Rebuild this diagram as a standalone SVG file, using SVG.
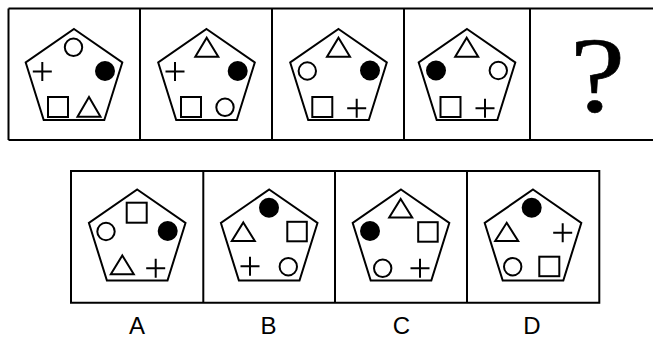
<svg xmlns="http://www.w3.org/2000/svg" width="653" height="339" viewBox="0 0 653 339">
<defs>
<style>
.frame{fill:none;stroke:#000;stroke-width:2}
.pent{fill:#fff;stroke:#000;stroke-width:2;stroke-linejoin:miter}
.o{fill:none;stroke:#000;stroke-width:2}
.f{fill:#000}
.q{font-family:"Liberation Serif",serif;font-size:108px;fill:#000;stroke:#000;stroke-width:0.6}
.lbl{font-family:"Liberation Sans",Arial,sans-serif;font-size:24px;fill:#000}
</style>
<polygon id="pg" points="0,0 48.3,33.5 30.3,91 -30.3,91 -48.3,33.5"/>
<path id="plus" d="M-9.5,0H9.5M0,-9.5V9.5"/>
</defs>
<rect width="653" height="339" fill="#fff"/>
<g id="connectors"></g>
<g id="top-frame">
<path class="frame" d="M8.5,8.5H660M8.5,140H660M8.5,8.5V140M140,8.5V140M272,8.5V140M404,8.5V140M530,8.5V140"/>
</g>
<g id="p1">
<use href="#pg" class="pent" x="74" y="29"/>
<circle class="o" cx="73.5" cy="47.3" r="8.7"/>
<circle class="f" cx="105" cy="71" r="10"/>
<use href="#plus" class="o" x="42.3" y="71.5"/>
<rect class="o" x="48" y="97" width="20" height="20"/>
<polygon class="o" points="89,97 100.5,116.7 77.5,116.7"/>
</g>
<g id="p2">
<use href="#pg" class="pent" x="206.5" y="29"/>
<polygon class="o" points="206.7,37.7 218.3,56.7 195.3,56.7"/>
<circle class="f" cx="237.7" cy="71" r="10"/>
<use href="#plus" class="o" x="175" y="71.5"/>
<rect class="o" x="181" y="97" width="20" height="20"/>
<circle class="o" cx="225" cy="107.3" r="8.7"/>
</g>
<g id="p3">
<use href="#pg" class="pent" x="338.5" y="29"/>
<polygon class="o" points="338.5,37.7 350,56.7 327,56.7"/>
<circle class="o" cx="307.3" cy="71" r="8.7"/>
<circle class="f" cx="370" cy="70.5" r="10"/>
<rect class="o" x="312.3" y="97" width="20" height="20"/>
<use href="#plus" class="o" x="356.7" y="108.3"/>
</g>
<g id="p4">
<use href="#pg" class="pent" x="467" y="29"/>
<polygon class="o" points="466.7,37.7 478.2,56.7 455.2,56.7"/>
<circle class="f" cx="436" cy="70.5" r="10"/>
<circle class="o" cx="498.3" cy="70.5" r="8.7"/>
<rect class="o" x="440.5" y="97" width="20" height="20"/>
<use href="#plus" class="o" x="485" y="108.3"/>
</g>
<g id="p5">
<text class="q" x="597.5" y="111" text-anchor="middle" transform="translate(597.5 0) scale(1.15 1) translate(-597.5 0)">?</text>
</g>
<g id="bottom-frame">
<path class="frame" d="M71,171H599.3V302.7H71ZM203.3,171V302.7M335,171V302.7M467,171V302.7"/>
</g>
<g id="optA">
<use href="#pg" class="pent" x="137.2" y="189.5"/>
<rect class="o" x="126.7" y="202.7" width="20" height="20"/>
<circle class="o" cx="106" cy="231.5" r="8.7"/>
<circle class="f" cx="167.7" cy="231" r="10"/>
<polygon class="o" points="122.3,255.5 133.8,274.3 110.8,274.3"/>
<use href="#plus" class="o" x="155.7" y="268.3"/>
<text class="lbl" x="137" y="334" text-anchor="middle">A</text>
</g>
<g id="optB">
<use href="#pg" class="pent" x="269.2" y="189.5"/>
<circle class="f" cx="269" cy="207.7" r="10"/>
<rect class="o" x="287.3" y="221.8" width="19.5" height="19.5"/>
<polygon class="o" points="243.3,222.5 254.8,241 231.8,241"/>
<use href="#plus" class="o" x="250" y="266.3"/>
<circle class="o" cx="288.3" cy="266.7" r="8.7"/>
<text class="lbl" x="268.5" y="334" text-anchor="middle">B</text>
</g>
<g id="optC">
<use href="#pg" class="pent" x="401" y="189.5"/>
<polygon class="o" points="400.7,199 412.2,217.5 389.2,217.5"/>
<circle class="f" cx="370" cy="231" r="10"/>
<rect class="o" x="418.2" y="222.2" width="19.5" height="19.5"/>
<circle class="o" cx="382.7" cy="268.3" r="8.7"/>
<use href="#plus" class="o" x="420" y="268.3"/>
<text class="lbl" x="401.5" y="334" text-anchor="middle">C</text>
</g>
<g id="optD">
<use href="#pg" class="pent" x="533" y="189.5"/>
<circle class="f" cx="531.7" cy="207.7" r="10"/>
<polygon class="o" points="506.7,222.8 518.2,241 495.2,241"/>
<use href="#plus" class="o" x="562.7" y="232.7"/>
<circle class="o" cx="512.7" cy="266.7" r="8.7"/>
<rect class="o" x="539.3" y="256.7" width="20" height="19.5"/>
<text class="lbl" x="532" y="334" text-anchor="middle">D</text>
</g>
</svg>
